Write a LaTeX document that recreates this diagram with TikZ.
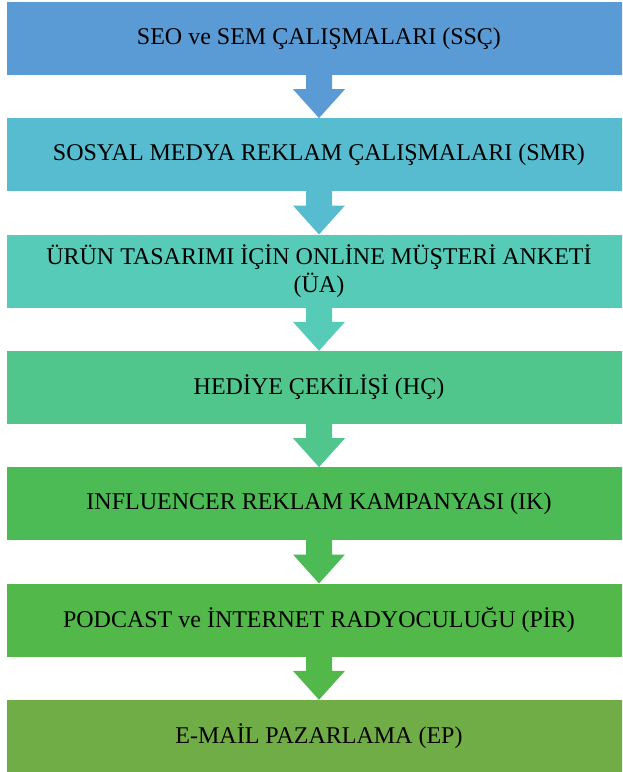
\documentclass[tikz,border=0pt]{standalone}
\usepackage{fontspec}
\setmainfont{Liberation Serif}
\usetikzlibrary{calc}
\definecolor{cA}{HTML}{5B9BD5}
\definecolor{cB}{HTML}{58BCD0}
\definecolor{cC}{HTML}{55CBB8}
\definecolor{cD}{HTML}{51C68C}
\definecolor{cE}{HTML}{4CBB55}
\definecolor{cF}{HTML}{52B84A}
\definecolor{cG}{HTML}{70AD47}
\newcommand\flowarrow[3]{%
  \fill[#3] ($(#1.south)+(-13,0.5)$) -- ($(#1.south)+(13,0.5)$) -- ($(#1.south)+(13,-14)$)
    -- ($(#1.south)+(26,-14)$) -- (#2.north) -- ($(#1.south)+(-26,-14)$)
    -- ($(#1.south)+(-13,-14)$) -- cycle;}
\begin{document}
\begin{tikzpicture}[x=1pt,y=1pt,
  stagebox/.style={rectangle, minimum width=624pt, minimum height=73pt, inner sep=0pt,
    align=center, font=\fontsize{24pt}{27.6pt}\selectfont, text=black}]
\useasboundingbox (0,0) rectangle (622,-772);
\begin{scope}
\clip (0,0) rectangle (622,-772);
\node[stagebox, fill=cA] (s1) at (319,-38.5) {SEO ve SEM ÇALIŞMALARI (SSÇ)};
\node[stagebox, fill=cB] (s2) at (319,-154.8) {SOSYAL MEDYA REKLAM ÇALIŞMALARI (SMR)};
\node[stagebox, fill=cC] (s3) at (319,-271.2) {ÜRÜN TASARIMI İÇİN ONLİNE MÜŞTERİ ANKETİ\\(ÜA)};
\node[stagebox, fill=cD] (s4) at (319,-387.5) {HEDİYE ÇEKİLİŞİ (HÇ)};
\node[stagebox, fill=cE] (s5) at (319,-503.8) {INFLUENCER REKLAM KAMPANYASI (IK)};
\node[stagebox, fill=cF] (s6) at (319,-620.2) {PODCAST ve İNTERNET RADYOCULUĞU (PİR)};
\node[stagebox, fill=cG] (s7) at (319,-736.5) {E-MAİL PAZARLAMA (EP)};
\flowarrow{s1}{s2}{cA}
\flowarrow{s2}{s3}{cB}
\flowarrow{s3}{s4}{cC}
\flowarrow{s4}{s5}{cD}
\flowarrow{s5}{s6}{cE}
\flowarrow{s6}{s7}{cF}
\end{scope}
\end{tikzpicture}
\end{document}
